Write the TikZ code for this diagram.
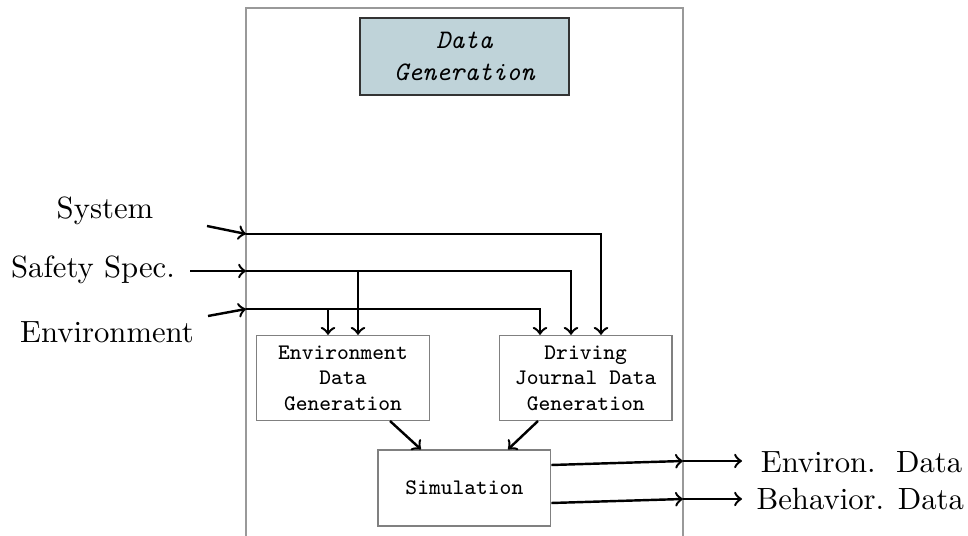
\documentclass[tikz,border=0pt]{standalone}
\usetikzlibrary{positioning}
\definecolor{titlefill}{RGB}{191,211,217}
\tikzset{
    block/.style = {draw = gray, thin, align = center, font = \ttfamily\fontsize{7.3}{8.4}\selectfont},
    conn/.style = {thick, ->},
    lbl/.style = {font = \fontsize{10.1}{12}\selectfont}
}
\begin{document}
\begin{tikzpicture}[x = 0.329pt, y = -0.329pt]
        \useasboundingbox (0,0) rectangle (968,536);
        %Frame
        \draw [gray!80] (246,8) rectangle (683,560);
        %Title
        \node [draw = black!80, fill = titlefill, align = center, minimum width = 68.8pt, minimum height = 25.3pt,
        font = \ttfamily\itshape\fontsize{8.8}{10.4}\selectfont]
        (title)at(464.5,56.5){Data\\Generation};
        %Environment Data Generation
        \node [block, minimum width = 56.7pt, minimum height = 27.6pt]
        (env)at(343,378){Environment\\Data\\Generation};
        %Driving Journal Data Generation
        \node [block, minimum width = 56.8pt, minimum height = 27.6pt]
        (drv)at(585.7,378){Driving\\Journal Data\\Generation};
        %Simulation
        \node [block, minimum width = 56.8pt, minimum height = 25pt]
        (sim)at(464.4,488){Simulation};
        %Inputs
        \node [lbl] (sys)at(105,211){System};
        \node [lbl] (saf)at(93,270){Safety Spec.};
        \node [lbl] (envl)at(107,332){Environment};
        %Outputs
        \node [lbl, anchor = west, inner xsep = 6pt] (eout)at(742,462){Environ.\ \ Data};
        \node [lbl, anchor = west, inner xsep = 4.6pt] (bout)at(742,499){Behavior. Data};

        \coordinate (sysa) at (207,226);
        \coordinate (safa) at (190,271);
        \coordinate (enva) at (208,316);
        \coordinate (sysin) at (246,234);
        \coordinate (safin) at (246,271);
        \coordinate (envin) at (246,309);
        \coordinate (safbr) at (358,271);
        \coordinate (envbr) at (328,309);
        \coordinate (sysx) at (601,0);
        \coordinate (safx) at (571,0);
        \coordinate (envx) at (540,0);
        \coordinate (eo) at (683,461);
        \coordinate (bo) at (683,499);

        \draw [conn](sysa)--(sysin);
        \draw [conn](safa)--(safin);
        \draw [conn](enva)--(envin);
        \draw [conn](sysin)-|(sysx |- drv.north);
        \draw [conn](safin)-|(safx |- drv.north);
        \draw [conn](envin)-|(envx |- drv.north);
        \draw [conn](safbr)--(safbr |- env.north);
        \draw [conn](envbr)--(envbr |- env.north);
        \draw [conn](390,421)--(sim.north -| 421,0);
        \draw [conn](538,421)--(sim.north -| 508,0);
        \draw [conn](sim.east |- 0,465)--(eo);
        \draw [conn](sim.east |- 0,503)--(bo);
        \draw [conn](eo)--(eout.west |- eo);
        \draw [conn](bo)--(bout.west |- bo);

    \end{tikzpicture}
\end{document}
